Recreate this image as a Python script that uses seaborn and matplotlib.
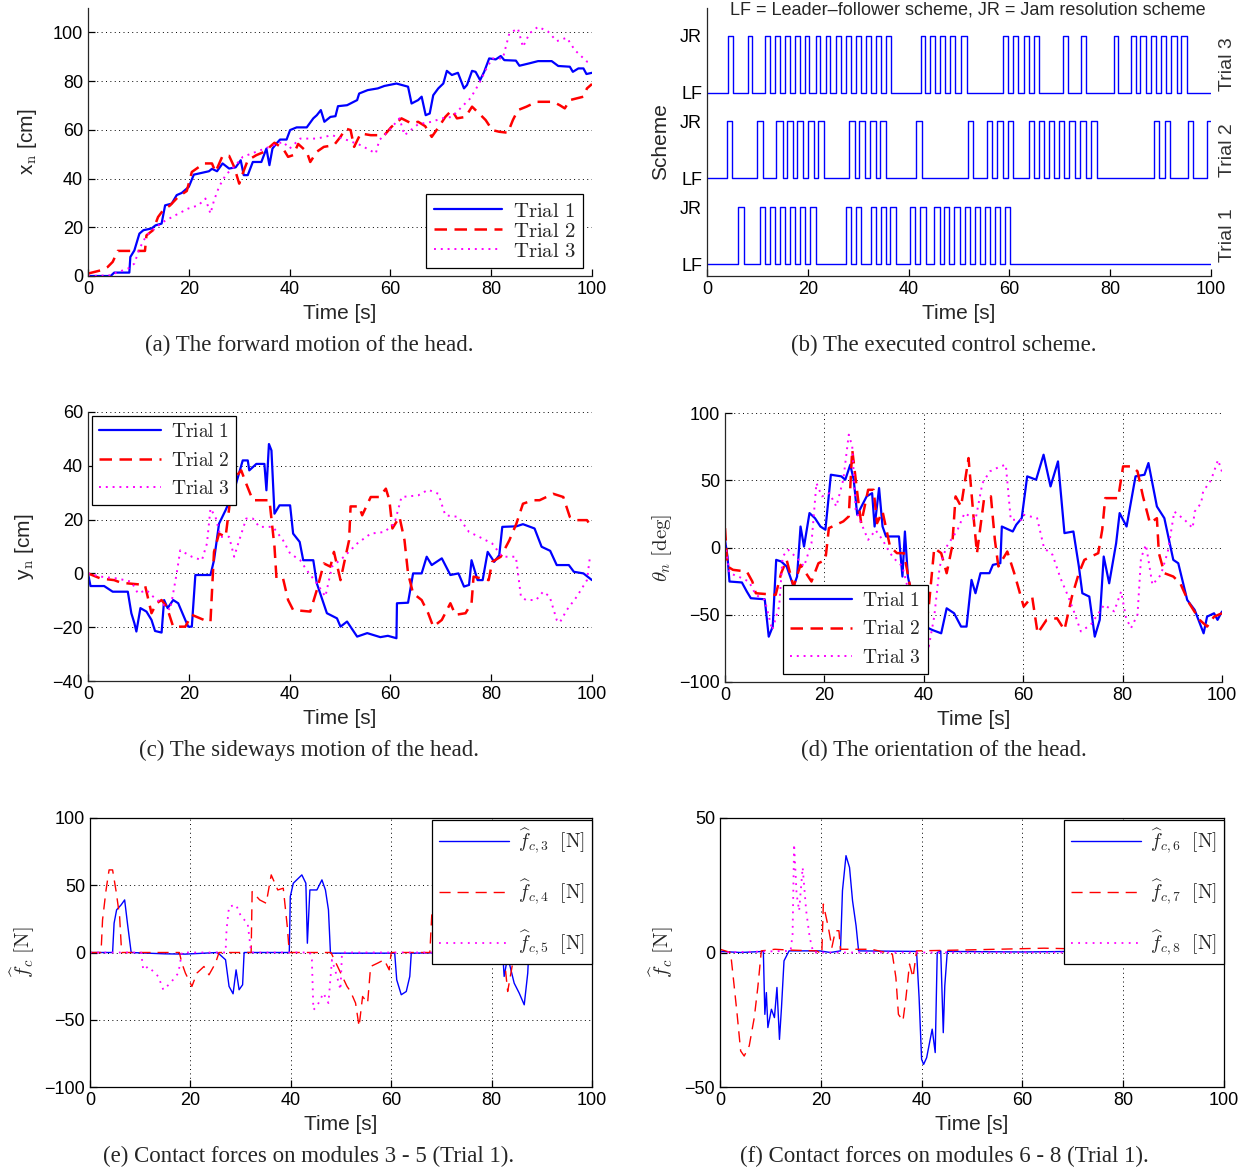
import numpy as np
import pandas as pd
import matplotlib
matplotlib.use("Agg")
import matplotlib.pyplot as plt
import seaborn as sns

# ---------------- data ----------------
# (a) forward motion x_n [cm]
a1_t = [0, 4.5, 5.2, 8.2, 8.4, 9.2, 10.2, 11, 12.6, 13.4, 14.6, 15.3, 16.6, 17.6, 18.6, 20, 21, 24, 24.6, 25.6,
        26.7, 28, 29.3, 30.3, 30.9, 31.7, 32.7, 34.4, 35.4, 36, 36.6, 37.4, 38.1, 39.4, 40.1, 41.4, 43.4, 44.7,
        45.4, 46.2, 46.9, 48.1, 49.1, 49.6, 51.4, 53.4, 53.8, 55.5, 57.5, 58.8, 61.2, 63.5, 64.2, 65.5, 66.2,
        67, 67.8, 68.5, 69.5, 70.5, 71.2, 72.2, 73.4, 74.6, 75.2, 76.2, 76.9, 77.8, 78.6, 79.6, 80.9, 81.9,
        82.6, 84.9, 85.6, 87.6, 89.3, 92, 93.3, 95.6, 96.2, 97.3, 98.3, 98.9, 100]
a1_v = [0, 0, 1.4, 1.4, 7.8, 10.5, 17.4, 18.8, 19.5, 20.8, 21.5, 29, 29.7, 33.2, 34.1, 36.6, 41.6, 43, 44, 43,
        46.2, 44.1, 44.6, 47.5, 41.4, 41.4, 46.8, 46.8, 52.3, 45.5, 52.3, 54.4, 56, 56, 59.9, 61, 61, 64.7,
        66, 68.1, 63.3, 65.3, 65.6, 69.7, 70.1, 72.2, 74.9, 76.3, 77, 78, 79, 77.7, 70.8, 72.2, 73.6,
        66, 66.7, 74.2, 77, 79, 84.2, 82.5, 83.4, 77, 78.4, 84.2, 83.8, 80.4, 83.8, 89.3, 88.9, 90.3,
        88.6, 88.4, 86.3, 87.3, 88.2, 88.2, 86.2, 85.9, 83.8, 85.2, 85.2, 82.9, 83.4]
a2_t = [0, 2.5, 3.9, 4.9, 5.9, 11.3, 11.6, 12.9, 13.9, 14.9, 16.3, 17.9, 19.6, 20.6, 23, 24.6, 25.3, 26.7, 28,
        29, 30, 30.7, 31.7, 33.4, 35, 35.7, 37, 38.7, 39.7, 40.7, 41.7, 43.4, 44.1, 45.4, 46.8, 48.8, 50.1,
        51.1, 52.1, 52.8, 54.1, 56.1, 58.8, 60.2, 62.2, 64.2, 65.5, 66.9, 68.2, 69.6, 70.9, 72.2, 73.2, 74.9,
        76.2, 77.6, 78.9, 80.2, 81.6, 83.3, 84.3, 85.3, 87, 89, 92.3, 93.6, 94.6, 95.6, 98.3, 99, 100]
a2_v = [1, 2.3, 3.7, 5.8, 10.3, 10.3, 16.7, 18.8, 24.2, 27, 29, 32.5, 34.9, 42.7, 46.2, 46.2, 42.7, 49.3, 49.3,
        44.8, 37.9, 42.1, 47.5, 49.6, 51, 52.3, 54.7, 52.3, 48.9, 49.6, 54.2, 51, 46.8, 51, 53, 53.7, 57.1,
        60.5, 59.9, 53, 58.5, 57.8, 57.8, 61.2, 64.7, 62.6, 63.3, 61.5, 57.1, 61.2, 65.3, 68.1, 64.7, 65.3,
        69.5, 66.7, 64, 59.9, 59.2, 58.8, 64, 68.1, 69.5, 71.5, 71.5, 70.1, 68.8, 72.2, 73.6, 77, 78.8]
a3_t = [0, 4.5, 5.9, 7.9, 9.2, 10.2, 11.6, 13.2, 14.9, 17.3, 19.9, 21.9, 23.3, 24.3, 25, 26, 27.3, 29.3, 30.7,
        33.4, 36, 38.7, 40, 42.1, 45.4, 48.4, 51.4, 54.1, 57.1, 57.8, 59.5, 61.8, 62.8, 65.5, 68.2, 70.2,
        72.2, 74.2, 75.9, 77.6, 78.9, 80.2, 82.3, 83.6, 85.3, 86.3, 87.6, 89.3, 91.3, 93, 95, 96.6, 99, 100]
a3_v = [0, 0.3, 1.6, 3, 5.1, 11.2, 16.7, 19.5, 22.2, 24.9, 27.7, 29, 31.8, 25.6, 31, 36.6, 41.4, 45.5, 48.9,
        51, 53, 55.1, 52.3, 56.4, 56.4, 57.8, 55.8, 53.7, 50.3, 55.8, 59.2, 64.7, 57.8, 62.3, 63.3, 64.7,
        65.3, 69.5, 73, 79, 84.5, 89.3, 89.3, 99.6, 101.6, 94, 99.6, 102.3, 100.3, 96.4, 97.8, 92.7, 88, 87.3]

# (b) executed control scheme: JR pulse start / end times
b1_on = [6.2, 10.5, 12.5, 14.4, 16.4, 18.4, 20.4, 27.5, 29.5, 32.5, 34.5, 36.4, 40.2, 42.3, 45.1, 47.1, 49.1,
         51.1, 53.2, 55.1, 57.1, 59.1]
b1_off = [7.3, 11.5, 13.5, 15.5, 17.5, 19.4, 21.6, 28.5, 30.5, 33.6, 35.5, 37.5, 41.3, 43.4, 46.2, 48.1, 50.2,
          52.2, 54.2, 56.2, 58.2, 60.2]
b2_on = [3.95, 10.0, 13.7, 15.9, 17.9, 20.0, 22.1, 28.2, 30.2, 32.3, 34.3, 41.5, 51.8, 55.6, 57.6, 59.7, 63.8,
         65.8, 67.8, 69.9, 71.9, 74.0, 76.2, 88.7, 90.8, 95.5, 99.2]
b2_off = [5.0, 11.1, 15.0, 17.0, 19.1, 21.3, 23.3, 29.3, 31.4, 33.6, 35.5, 42.7, 52.8, 56.6, 58.7, 60.7, 64.8,
          66.8, 68.9, 70.9, 73.0, 75.2, 77.4, 89.7, 91.9, 96.4]
b3_on = [4.25, 8.05, 11.5, 13.5, 15.5, 17.5, 19.4, 21.6, 23.6, 25.6, 27.6, 29.6, 31.6, 33.6, 35.6, 42.4, 44.3,
         46.3, 48.3, 50.3, 58.7, 60.7, 62.8, 64.8, 70.6, 74.2, 80.7, 84.1, 86.0, 88.1, 90.1, 92.1, 94.1]
b3_off = [5.2, 9.0, 12.5, 14.4, 16.4, 18.4, 20.3, 22.5, 24.5, 26.5, 28.5, 30.5, 32.5, 34.5, 36.5, 43.3, 45.3,
          47.2, 49.2, 51.5, 59.8, 61.8, 63.9, 65.8, 71.7, 75.2, 81.6, 85.1, 87.1, 89.1, 91.1, 93.2, 95.3]

# (c) sideways motion y_n [cm]
c1_t = [0, 0.5, 3.2, 4.9, 7.9, 8.6, 9.2, 9.6, 10.4, 11.6, 12.6, 13.3, 14.6, 15.1, 15.8, 16.9, 17.9, 19.3, 19.9,
        20.6, 21.3, 24.3, 25, 26, 27.3, 29, 30.7, 31.7, 32, 33.4, 35, 35.4, 35.9, 36.4, 37, 38, 40.1, 40.7,
        42, 42.7, 44.7, 45.4, 47.4, 49.4, 50.1, 51.4, 53.4, 55.4, 58, 59.5, 61.2, 61.3, 63.5, 64.5, 66.2,
        67.2, 68.2, 70.2, 71.9, 73.5, 74.6, 75.6, 76.1, 77.3, 78.3, 79.3, 80.6, 81.6, 82.2, 85, 86.3, 88.6,
        90, 91.7, 93, 95.4, 96.4, 98.3, 100]
c1_v = [0, -4.7, -4.7, -6.8, -6.8, -14.8, -18.5, -21.6, -12.9, -14.2, -17.3, -21.4, -22, -9.9, -12.9, -9.9,
        -11.1, -17.3, -19.8, -19.8, -0.6, -0.6, 4.9, 18.5, 23.5, 30.9, 42, 42, 38.3, 40.7, 40.7, 30.9, 48.1,
        45.7, 22.2, 25.3, 25.3, 14.8, 11.7, 4.9, 4.9, -3.7, -14.8, -16.7, -19.8, -17.9, -23.5, -22.2, -23.7,
        -23.2, -24.1, -11.1, -10.9, 0, 0, 6.2, 3.1, 5.6, -0.6, 0, -4.9, -4.3, 4.9, -2.5, -2.5, 8, 4.3, 6.8,
        17.3, 17.5, 18.3, 16.7, 9.9, 8.4, 3.1, 3.1, 0.6, 0, -2.5]
c2_t = [0, 2.5, 5.2, 6.6, 9.6, 11.3, 12.6, 13.6, 14.6, 15.6, 16.9, 19.3, 20.6, 23, 24.3, 25, 26, 27.3, 28.7,
        30.4, 31.4, 32.7, 36, 37, 37.4, 38.7, 39.7, 40.7, 44.1, 45.4, 46.8, 48.1, 48.8, 50.1, 50.8, 51.8,
        52.1, 53.8, 54.4, 56.1, 57.8, 59.1, 59.8, 60.4, 61.8, 62.8, 63.5, 64.5, 66.2, 67.5, 68.5, 70.2,
        71.9, 72.9, 74.9, 76.1, 76.5, 79.5, 80.2, 81.9, 83.6, 85, 86.3, 88.3, 89.6, 92.3, 94.3, 95.6, 96.9,
        99, 100]
c2_v = [0, -1.9, -2.5, -3.5, -4, -4.3, -14.8, -11.1, -9.9, -12.3, -19.8, -19.8, -15.4, -17.3, -17.9, 8, 14.8,
        13.6, 34.6, 38.3, 33.3, 27.2, 27.2, 9.9, -1.9, -1.9, -9.9, -13.6, -14.2, -6.2, 3.7, 2.5, 8, -2.5,
        3.7, 12.3, 24.9, 24.9, 21.6, 28.4, 28.4, 31.5, 27.2, 16.7, 21, 12.3, 0, -7.4, -9.9, -14.8, -19.8,
        -17.3, -11.1, -15.4, -14.8, -11.1, -1.2, -2.5, 4.3, 6.2, 12.3, 18.5, 25.9, 27.2, 27.2, 29.6, 28.4,
        21, 19.8, 19.8, 17]
c3_t = [0, 2.5, 5.9, 8.6, 9.9, 11.6, 12.9, 14.6, 16.3, 17.6, 18.3, 20.6, 22.6, 23.6, 24.3, 25.3, 26.3, 28, 29,
        30, 31.4, 32.7, 34, 36.7, 38.7, 40.1, 42.1, 43.4, 45.4, 47.1, 48.4, 50.8, 53.4, 56.1, 58.8, 60.8,
        62.2, 65.5, 67.5, 69.5, 70.9, 73.5, 75.6, 77.6, 80.2, 82.2, 84.9, 85.9, 86.9, 88.9, 90.3, 91.6, 93,
        93.6, 95, 97, 99, 99.6]
c3_v = [0, -1.2, -1.9, -3.1, -7.4, -6.2, -8.6, -11.1, -13.6, 0, 8.6, 6.2, 4.9, 11.1, 24.1, 21, 13.6, 13.6, 6.2,
        12.3, 20.4, 20.4, 17.3, 17.3, 12.3, 7.4, 4.9, 1.2, -3.7, -8.6, 2.5, 6.2, 11.1, 14.8, 15.4, 18.5,
        28.4, 29, 31.1, 29.6, 21.6, 21, 15.4, 13.6, 11.1, 6.2, 6.2, -8.6, -9.9, -9.9, -6.8, -8.6, -17.3,
        -18.3, -13.6, -8.6, -2.5, 6.2]

# (d) orientation theta_n [deg]
d1_t = [0, 0.5, 0.9, 3.4, 4.4, 5.2, 8, 8.8, 9.6, 10.3, 11.3, 12.4, 13.8, 14.5, 15.2, 15.9, 17, 18.1, 19.2, 20.2,
        21.3, 23.4, 24.2, 25.2, 25.9, 26.6, 28.5, 29.6, 30.1, 31, 31.7, 32.4, 35, 35.7, 36.2, 36.8, 37.8,
        39, 40.3, 41.7, 43.5, 44.6, 46.1, 47.5, 48.6, 49.6, 50.4, 51.4, 53.2, 53.9, 55.4, 55.7, 57.9, 58.6,
        59.7, 60.8, 62.6, 64.1, 65.5, 67, 68.3, 70.1, 71.2, 71.9, 73.3, 74.4, 75.4, 76.2, 77.3, 78.7, 79.4,
        80.8, 82.6, 84.4, 85.2, 86.9, 88.4, 90.2, 91.2, 93, 94.5, 96.3, 97, 98.4, 99.1, 100]
d1_v = [5.7, -6.7, -25.3, -26, -32.8, -37.7, -38.5, -66.3, -58.8, -9.2, -10.4, -14.1, -29, -21.6, 15.6, 0.7,
        25.6, 21.8, 15.6, 13.2, 54.1, 52.9, 50.4, 61.5, 50.4, 24.3, 38, 40.4, 15.6, 44.2, 15.6, 8.2, 8.2,
        -21.6, 11.9, -21.6, -39, -46.4, -58.8, -61.3, -63.8, -45.2, -48.9, -58.8, -58.8, -24.1, -34, -19.1,
        -19.1, -12.9, -11.7, 15.6, 11.9, 16.9, 21.8, 52.9, 50.4, 69, 45.4, 64, 10.7, 11.9, -14.1, -34,
        -36.5, -66.3, -53.8, -6.7, -26.6, 3.2, 25.6, 15.6, 52.9, 54.1, 62.8, 30.5, 21.8, -9.2, -11.7, -39,
        -46.4, -63.8, -51.4, -48.9, -53.8, -47.6]
d2_t = [0, 0.5, 1.6, 4.4, 5.5, 6.2, 10.2, 11.3, 12.4, 13.8, 15.2, 17.4, 18.8, 20.2, 20.9, 23.8, 24.9, 25.6,
        26.7, 27.4, 28.8, 29.9, 30.6, 31.7, 33.2, 34.6, 36, 38.3, 39.5, 40.3, 41, 42.1, 43.5, 44.6, 45.7,
        46.4, 47.5, 49, 50, 50.7, 52.1, 53.5, 54.3, 55, 56.8, 58.2, 60.1, 61.8, 62.9, 64.7, 66.8, 68.3,
        69.8, 71.2, 72.3, 75.1, 75.9, 76.5, 79.1, 80.1, 81.9, 83, 84.1, 85.5, 86.9, 87.3, 88.4, 90.2, 91.6,
        93.4, 95.5, 97, 98.4, 100]
d2_v = [14.4, -14.1, -16.6, -17.9, -25.3, -34, -35.2, -19.1, -9.2, -29, -12.9, -25.3, -11.7, -9.2, 14.4, 19.4,
        23.1, 72.7, 38, 18.1, 42.9, 42.9, 18.1, 26.8, 0.7, -4.2, -4.2, -50.1, -41.4, -61.3, -43.9, -0.5,
        -4.2, -19.1, 0.7, 38, 30.5, 66.5, 23.1, -4.2, 35.5, 38, 5.7, -14.1, -3, -19.1, -43.9, -36.5, -63.8,
        -53.8, -52.6, -61.3, -36.5, -19.1, -9.2, -4.2, 13.2, 36.7, 36.7, 60.3, 60.3, 56.6, 38, 18.1, 21.8,
        -4.2, -19.1, -21.6, -26.6, -41.4, -53.8, -58.8, -51.4, -48.9]
d3_t = [0, 0.9, 2.7, 4.8, 6.2, 8, 9.5, 10.9, 11.6, 12.7, 14.5, 15.9, 17.4, 18.4, 19.5, 21, 22.4, 23.8, 24.9,
        25.6, 26.3, 27.4, 28.8, 30.3, 31.7, 33.2, 34.3, 35.7, 36.7, 38.2, 40.3, 41, 42.1, 43.2, 44.6, 46.8,
        48.2, 50.4, 51.8, 53.3, 55.4, 56.5, 57.5, 59.7, 60.1, 62.8, 64.2, 65.9, 67.5, 68.9, 70.2, 71.6,
        73.6, 76.3, 78.3, 79.7, 80.7, 81.7, 83, 83.7, 84.7, 86, 87.7, 89.1, 90.4, 92.5, 94.1, 94.5, 95.8,
        96.2, 97.8, 99.2, 100]
d3_v = [3.2, -19.1, -21.6, -25.3, -35.2, -39, -61.3, -43.9, -6.7, -1.7, -7.9, -14.1, 3.2, 47.9, 38, 40.4, 30.5,
        50.4, 83.9, 75.2, 28, 18.1, 5.7, 12.9, 5.7, -4.2, -9.2, -14.1, -29, -41.4, -58.8, -73.7, -51.4,
        -14.1, 0.7, 13.2, 25.6, 20.6, 47.9, 56.6, 60.3, 61.5, 20.6, 20.6, 24.3, 21.8, -0.5, -5.4, -22.8,
        -35, -47.5, -62.4, -57.4, -42.6, -47.5, -32.7, -52.5, -59.9, -50, -7.9, 2, -27.7, -20.3, -3, 26.7,
        20.5, 14.4, 26.7, 33, 41.6, 50.2, 65.1, 56.4]

# (e) contact forces on modules 3 - 5 [N]
e3_t = [0, 4.5, 4.8, 5.3, 6.2, 6.9, 7.5, 8.2, 14.9, 19, 25.4, 27, 27.7, 28.5, 29.1, 29.7, 30.4, 30.7, 39.7,
        39.9, 40.5, 42.2, 43, 43.3, 43.8, 45.2, 46.2, 46.9, 47.5, 47.9, 60.7, 61.1, 62, 63, 63.7, 64, 72.1,
        72.4, 73.4, 74.4, 75.4, 76.1, 82.2, 82.5, 83.2, 84.5, 85.5, 86.5, 87.2, 87.4, 93.5, 93.6, 94.9,
        95.3, 100]
e3_v = [0, 0, 21.8, 31.7, 35.4, 39.1, 20.5, 0, -1, -1.2, 0, -5.4, -25.2, -30.7, -12.9, -27.7, -24, 0, 0, 41.6,
        51.5, 57.7, 51.5, 6.9, 46.5, 46.5, 54, 46.5, 31.7, -0.5, -0.5, -20.3, -31.4, -29, -17.8, -0.5, 0,
        20.5, 20.5, 11.9, 6.9, 0, 0, -17.8, -3, -22.8, -30.2, -38.9, -15.3, 0, 0, 14.4, 9.4, 0, 0]
e4_t = [0, 2.2, 2.5, 3.2, 3.8, 4.5, 5.2, 5.9, 6.3, 17.8, 18.3, 19, 20.3, 21.3, 22.7, 23.7, 25, 25.7, 32.1, 32.3,
        33.8, 35.1, 36.1, 37.4, 38.5, 39.3, 39.7, 48, 51.2, 51.9, 52.9, 53.6, 54.3, 55.3, 55.9, 57.3, 58.6,
        59.6, 60, 67.7, 68.1, 68.7, 69.4, 70.4, 71.1, 71.8, 82.2, 82.5, 83.2, 84.2, 84.9, 100]
e4_v = [0, 0, 24.3, 46.5, 61.4, 61.4, 45.5, 26.7, 0, 0, -7.9, -15.3, -25.2, -15.3, -10.4, -16.6, -7.9, 0, 0,
        45.3, 39.1, 36.6, 57.7, 46.5, 47.8, 19.3, 0, 0, -25.2, -29, -37.6, -55, -32.7, -37.6, -10.4, -7.9,
        -5.4, -12.9, 0, 0, 29.2, 11.9, 51.5, 51.5, 11.9, 0, 0, -3, -29, -7.9, 0, 0]
e5_t = [0, 10.2, 10.6, 11.6, 13.6, 14.6, 16, 17.6, 18.3, 27, 27.2, 27.7, 29.1, 30.1, 31.4, 32.1, 43.8, 44.2,
        44.5, 45.2, 46.5, 47.5, 48.2, 49.2, 49.9, 50.2, 100]
e5_v = [0, 0, -12.9, -10.4, -17.8, -27.7, -22.8, -15.3, 0, 0, 16.8, 34.2, 35.4, 26.7, 21.8, 0, 0, -5.4, -42.6,
        -40.1, -30.2, -37.6, -5.4, -17.8, -27.7, 0, 0]

# (f) contact forces on modules 6 - 8 [N]
f6_t = [0, 4.1, 8.6, 8.9, 9.2, 9.5, 10.2, 10.8, 11.3, 11.8, 12.2, 12.7, 13.7, 19.8, 21.9, 23.9, 24.3, 25, 25.7,
        26.3, 27, 27.5, 39, 39.5, 40, 40.4, 41, 42.1, 42.7, 43.1, 43.8, 44.3, 44.6, 45.1, 60, 75, 90, 91.7,
        93, 100]
f6_v = [0.4, 0, 0.4, -23, -14.9, -27.9, -21.1, -24.2, -13, -32.3, -20.5, -3.1, 0.6, 0.6, 0, 0.6, 23, 36, 31.6,
        19.2, 9.9, 0.6, 0.4, -16.7, -39.7, -41.6, -39.1, -28.5, -37.2, 0, 0.6, -29.8, -12.4, 0.4, 0.2, 0.5,
        0.3, -1.2, 0.3, 0.4]
f7_t = [0, 2.1, 2.7, 3.4, 4.1, 4.8, 5.8, 6.8, 7.5, 8.2, 10.9, 13.7, 19.2, 20.2, 20.5, 21.5, 22.2, 22.9, 23.6,
        23.9, 30.1, 34.2, 34.9, 35.4, 36.3, 36.9, 37.6, 38.3, 39, 50, 64.3, 80, 100]
f7_v = [1.2, 0, -10.5, -23, -36.6, -38.5, -34.7, -24.2, -13, 0.6, 1.2, 0.9, 0.6, -0.6, 18, 9.3, 1.9, 8.1, 8.1,
        1.2, 1.2, -0.6, -9.3, -23, -25.4, -16.7, -4.3, -9.3, 0.6, 1.0, 1.6, 1.0, 0.9]
f8_t = [0, 14, 14.4, 14.7, 15.2, 15.7, 16.4, 17.1, 17.8, 18.5, 100]
f8_v = [0, 0.6, 6.8, 40.3, 21.7, 15.5, 31.6, 15.5, 5.6, 0, 0]

trial_labels = ["Trial 1", "Trial 2", "Trial 3"]
scheme_ticks = [0, 1, 1.5, 2.5, 3, 4]
scheme_labels = ["LF", "JR", "LF", "JR", "LF", "JR"]


def pulses(on, off, base):
    x, y = [0], [base]
    for i, t0 in enumerate(on):
        x += [t0, t0]
        y += [base, base + 1]
        if i < len(off):
            x += [off[i], off[i]]
            y += [base + 1, base]
    x.append(100)
    y.append(y[-1])
    return pd.DataFrame({"t": x, "v": y})


# ---------------- style ----------------
sns.set_style("ticks")
plt.rcParams["font.family"] = ["Liberation Sans", "DejaVu Sans"]
plt.rcParams["mathtext.fontset"] = "cm"
plt.rcParams["xtick.direction"] = "in"
plt.rcParams["ytick.direction"] = "in"
plt.rcParams["axes.linewidth"] = 0.9
plt.rcParams["xtick.major.width"] = 0.9
plt.rcParams["ytick.major.width"] = 0.9
plt.rcParams["xtick.major.size"] = 5
plt.rcParams["ytick.major.size"] = 5
plt.rcParams["xtick.labelsize"] = 13
plt.rcParams["ytick.labelsize"] = 13

W, H = 1247, 1172
fig = plt.figure(figsize=(W / 100, H / 100), dpi=100)


def axes_px(l, r, t, b):
    return fig.add_axes([l / W, (H - b) / H, (r - l) / W, (b - t) / H])


GRID = dict(color="black", linestyle=(0, (1, 3.5)), linewidth=0.7)
serif = ["Liberation Serif", "DejaVu Serif"]


def line(ax, t, v, color, ls, lw):
    sns.lineplot(x=t, y=v, ax=ax, estimator=None, sort=False, color=color,
                 linestyle=ls, linewidth=lw)


def finish(ax, ylabel, ylx, box=False):
    ax.set_xlim(0, 100)
    ax.set_xticks(range(0, 101, 20))
    ax.set_xlabel("Time [s]", fontsize=15)
    ax.xaxis.set_label_coords(0.5, -0.14)
    ax.xaxis.label.set_va("center")
    ax.set_ylabel(ylabel, fontsize=15)
    ax.yaxis.set_label_coords(ylx, 0.5)
    ax.yaxis.label.set_va("center")
    if not box:
        sns.despine(ax=ax)
    else:
        for s in ax.spines.values():
            s.set_visible(True)
            s.set_color("black")
    ax.tick_params(colors="black")


def legend(ax, labels, loc, anchor, spacing, hl=3.2, fs=14):
    leg = ax.legend(ax.get_lines()[:3], labels, loc=loc, bbox_to_anchor=anchor, frameon=True,
                    fancybox=False, framealpha=1, edgecolor="black", borderaxespad=0,
                    fontsize=fs, labelspacing=spacing, handlelength=hl, handletextpad=0.5,
                    borderpad=0.35)
    leg.get_frame().set_linewidth(0.9)


tr_labels = [r"$\mathrm{%s}$" % s.replace(" ", r"\ ") for s in trial_labels]

# (a)
ax = axes_px(88, 592, 8, 276)
line(ax, a1_t, a1_v, "#0000ff", "-", 1.6)
line(ax, a2_t, a2_v, "#ff0000", (0, (5, 3)), 1.8)
line(ax, a3_t, a3_v, "#ff00ff", (0, (1, 2.5)), 1.4)
ax.set_ylim(0, 110)
ax.set_yticks(range(0, 101, 20))
ax.yaxis.grid(True, **GRID)
finish(ax, r"x$_\mathrm{n}$ [cm]", -0.12)
legend(ax, tr_labels, "lower right", (0.982, 0.03), 0.05, hl=3.3, fs=15)

# (b)
ax = axes_px(707, 1211, 8, 276)
for on, off, base in [(b1_on, b1_off, 0), (b2_on, b2_off, 1.5), (b3_on, b3_off, 3)]:
    df = pulses(on, off, base)
    sns.lineplot(data=df, x="t", y="v", ax=ax, estimator=None, sort=False, color="#0000ff", linewidth=1.0)
ax.set_ylim(-0.21, 4.49)
ax.set_yticks(scheme_ticks)
ax.set_yticklabels(scheme_labels)
finish(ax, "Scheme", -0.093)
ax.tick_params(axis="y", length=0)
for yc, lab in zip([0.5, 2.0, 3.5], trial_labels):
    ax.text(103.2, yc, lab, rotation=90, ha="center", va="center", fontsize=14, color="#333333",
            clip_on=False)
fig.text(968 / W, 1 - 10 / H, "LF = Leader\u2013follower scheme, JR = Jam resolution scheme",
         ha="center", va="center", fontsize=13)

# (c)
ax = axes_px(88, 592, 412, 681)
line(ax, c1_t, c1_v, "#0000ff", "-", 1.6)
line(ax, c2_t, c2_v, "#ff0000", (0, (5, 3)), 1.8)
line(ax, c3_t, c3_v, "#ff00ff", (0, (1, 2.5)), 1.4)
ax.set_ylim(-40, 60)
ax.set_yticks(range(-40, 61, 20))
ax.yaxis.grid(True, **GRID)
finish(ax, r"y$_\mathrm{n}$ [cm]", -0.125)
legend(ax, tr_labels, "upper left", (0.008, 0.985), 0.55)

# (d)
ax = axes_px(725, 1222, 413, 682)
line(ax, d1_t, d1_v, "#0000ff", "-", 1.6)
line(ax, d2_t, d2_v, "#ff0000", (0, (5, 3)), 1.8)
line(ax, d3_t, d3_v, "#ff00ff", (0, (1, 2.5)), 1.4)
ax.set_ylim(-100, 100)
ax.set_yticks(range(-100, 101, 50))
ax.grid(True, **GRID)
finish(ax, r"$\theta_n\ [\mathrm{deg}]$", -0.127)
legend(ax, tr_labels, "lower left", (0.117, 0.03), 0.55)

# (e)
ax = axes_px(90, 592, 818, 1087)
line(ax, e3_t, e3_v, "#0000ff", "-", 1.0)
line(ax, e4_t, e4_v, "#ff0000", (0, (8, 5)), 1.0)
line(ax, e5_t, e5_v, "#ff00ff", (0, (1, 3)), 1.3)
ax.set_ylim(-100, 100)
ax.set_yticks(range(-100, 101, 50))
ax.grid(True, **GRID)
finish(ax, r"$\widehat{f}_c\ [\mathrm{N}]$", -0.135, box=True)
legend(ax, [r"$\widehat{f}_{c,3}\ \ [\mathrm{N}]$", r"$\widehat{f}_{c,4}\ \ [\mathrm{N}]$",
            r"$\widehat{f}_{c,5}\ \ [\mathrm{N}]$"], "upper right", (1.0, 0.993), 1.1, hl=3.6)

# (f)
ax = axes_px(720, 1224, 818, 1087)
line(ax, f6_t, f6_v, "#0000ff", "-", 1.0)
line(ax, f7_t, f7_v, "#ff0000", (0, (8, 5)), 1.0)
line(ax, f8_t, f8_v, "#ff00ff", (0, (1, 3)), 1.3)
ax.set_ylim(-50, 50)
ax.set_yticks([-50, 0, 50])
ax.grid(True, **GRID)
finish(ax, r"$\widehat{f}_c\ [\mathrm{N}]$", -0.115, box=True)
legend(ax, [r"$\widehat{f}_{c,6}\ \ [\mathrm{N}]$", r"$\widehat{f}_{c,7}\ \ [\mathrm{N}]$",
            r"$\widehat{f}_{c,8}\ \ [\mathrm{N}]$"], "upper right", (1.0, 0.993), 1.1, hl=3.6)

# captions
captions = [(309, 345, "(a) The forward motion of the head."),
            (944, 345, "(b) The executed control scheme."),
            (309, 750, "(c) The sideways motion of the head."),
            (944, 750, "(d) The orientation of the head."),
            (309, 1156, "(e) Contact forces on modules 3 - 5 (Trial 1)."),
            (944, 1156, "(f) Contact forces on modules 6 - 8 (Trial 1).")]
for x, y, s in captions:
    fig.text(x / W, 1 - y / H, s, ha="center", va="center", fontsize=16.5, family=serif)

fig.savefig("out.png", dpi=100)
